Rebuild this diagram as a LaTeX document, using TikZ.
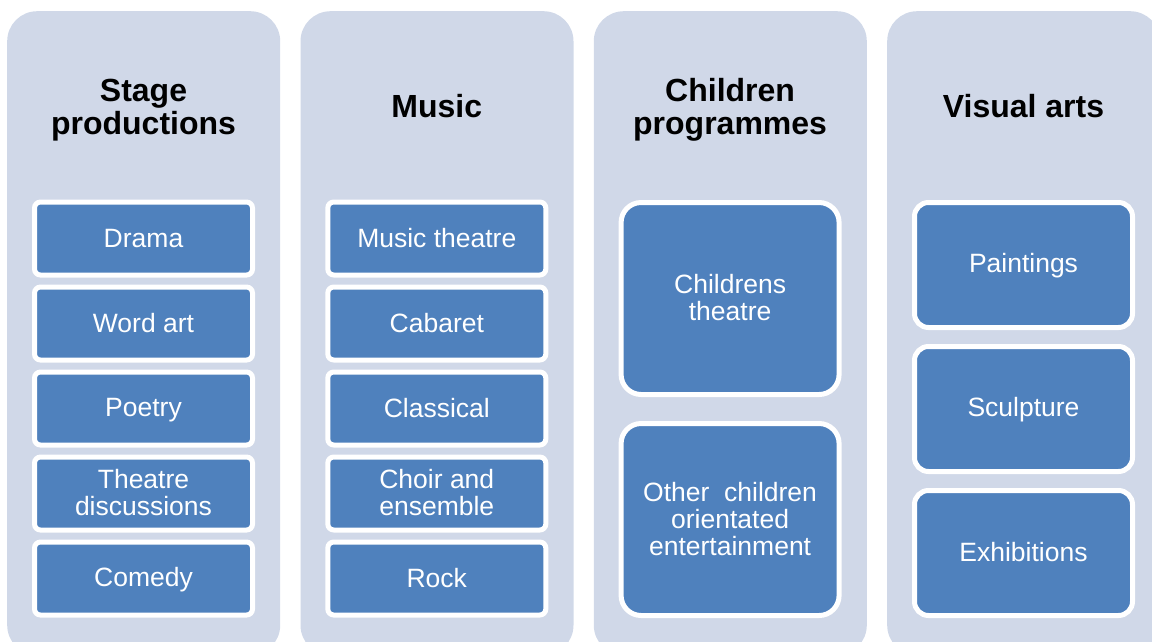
\documentclass[tikz,border=0pt]{standalone}
\usepackage{fontspec}
\setmainfont{Liberation Sans}
\definecolor{panel}{HTML}{D0D8E8}
\definecolor{itemblue}{HTML}{4F81BD}
% struts that centre a label's text block optically in its box
\newcommand{\itemtop}{\rule{0pt}{21pt}}
\newcommand{\itembot}{\rule[-4pt]{0pt}{4pt}}
\begin{document}
\lineskiplimit=-20pt
\begin{tikzpicture}[x=1pt,y=-1pt,
  panelbox/.style={fill=panel, draw=none, rounded corners=30pt, inner sep=0pt,
    minimum width=273pt, minimum height=644pt, anchor=north west},
  title/.style={font=\fontsize{32}{33}\selectfont\bfseries,
    align=center, text=black, yshift=-3pt},
  item/.style={fill=itemblue, draw=white, line width=5pt, text=white,
    font=\fontsize{26.5}{27}\selectfont, align=center, inner sep=0pt,
    minimum width=218pt, rounded corners=#1},
  item/.default=6pt]
\useasboundingbox (0,0) rectangle (1152,641);
\clip (0,0) rectangle (1152,641);

% background panels
\node[panelbox] (p1) at (7,11) {};
\node[panelbox] (p2) at (300.3,11) {};
\node[panelbox] (p3) at (593.6,11) {};
\node[panelbox] (p4) at (887,11) {};

% column headings
\node[title] (t1) at (143.5,108) {\strut Stage\\productions\strut};
\node[title] (t2) at (436.8,108) {\strut Music\strut};
\node[title] (t3) at (730.1,108) {\strut Children\\programmes\strut};
\node[title] (t4) at (1023.5,108) {\strut Visual arts\strut};

% stage productions
\foreach \lbl [count=\i] in {Drama, Word art, Poetry, {Theatre\\discussions}, Comedy}
  \node[item, minimum height=73pt] (s\i) at (143.5,238.5+85*\i-85) {\itemtop\lbl\itembot};

% music
\foreach \lbl [count=\i] in {Music theatre, Cabaret, Classical, {Choir and\\ensemble}, Rock}
  \node[item, minimum height=73pt] (m\i) at (436.8,238.5+85*\i-85) {\itemtop\lbl\itembot};

% children programmes
\node[item=20pt, minimum height=192pt] (c1) at (730.1,298.5) {\itemtop Childrens\\theatre\itembot};
\node[item=20pt, minimum height=192pt] (c2) at (730.1,519.5) {\itemtop Other~~children\\orientated\\entertainment\itembot};

% visual arts
\node[item=14pt, minimum height=125pt] (v1) at (1023.5,265) {\itemtop Paintings\itembot};
\node[item=14pt, minimum height=125pt] (v2) at (1023.5,409) {\itemtop Sculpture\itembot};
\node[item=14pt, minimum height=125pt] (v3) at (1023.5,553) {\itemtop Exhibitions\itembot};
\end{tikzpicture}
\end{document}
